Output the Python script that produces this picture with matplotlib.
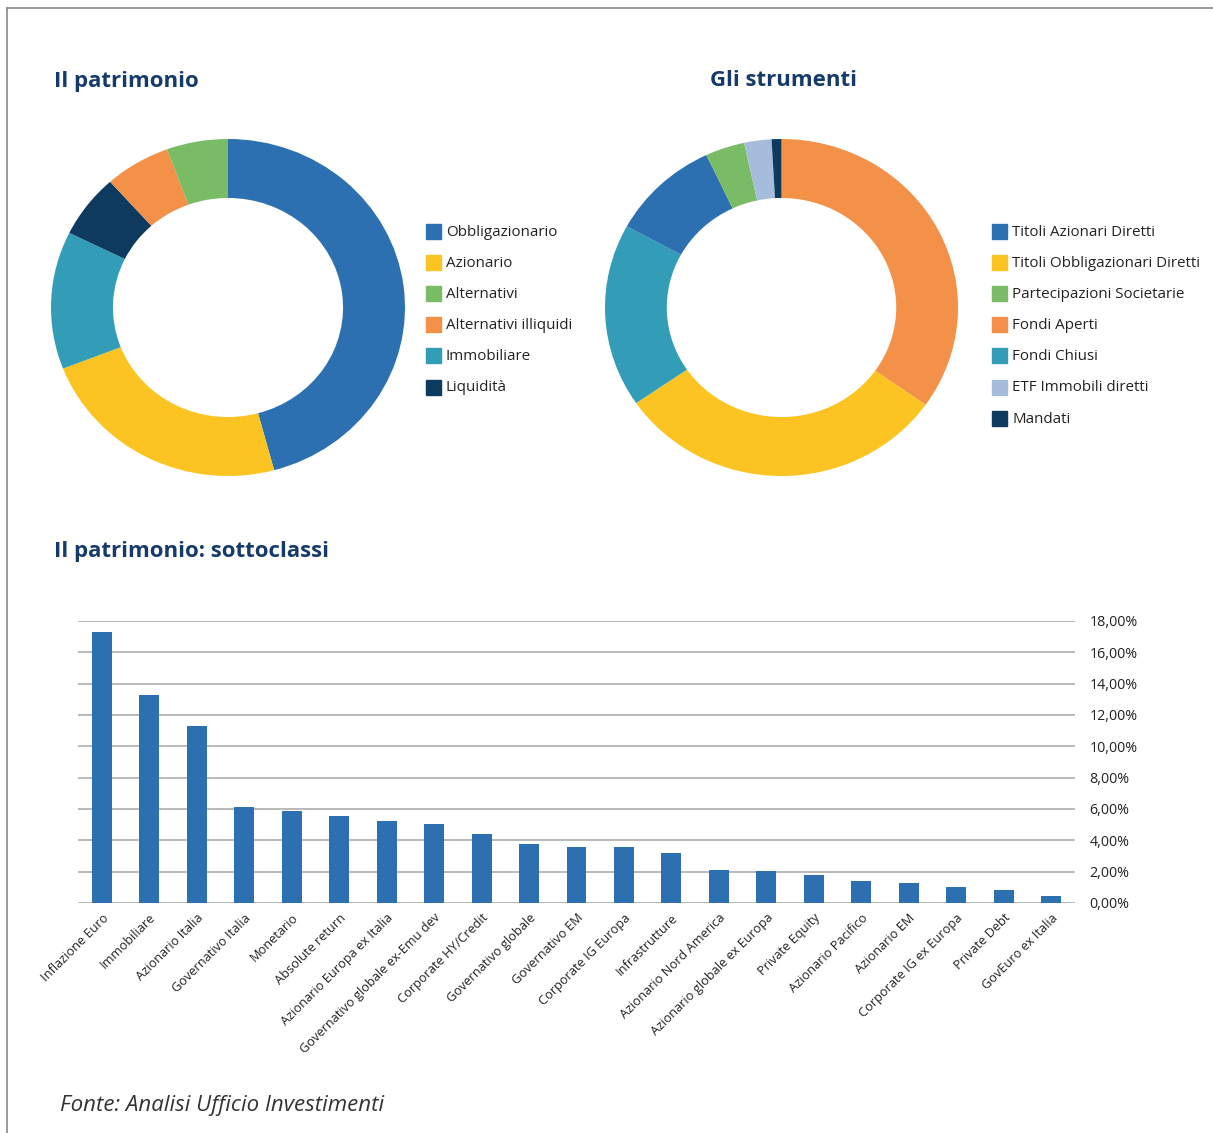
import matplotlib
matplotlib.use('Agg')
import matplotlib.pyplot as plt
from matplotlib.lines import Line2D
from matplotlib.patches import Rectangle

plt.rcParams['font.family'] = ['Open Sans', 'DejaVu Sans']

W, H = 1213, 1133

# ---- data
patrimonio_labels = ['Obbligazionario', 'Azionario', 'Immobiliare', 'Liquidità',
                     'Alternativi illiquidi', 'Alternativi']
patrimonio_values = [45.8, 23.3, 13.2, 6.1, 6.0, 5.6]
patrimonio_legend = ['Obbligazionario', 'Azionario', 'Alternativi',
                     'Alternativi illiquidi', 'Immobiliare', 'Liquidità']

strumenti_labels = ['Fondi Aperti', 'Titoli Obbligazionari Diretti', 'Fondi Chiusi',
                    'Titoli Azionari Diretti', 'Partecipazioni Societarie',
                    'ETF Immobili diretti', 'Mandati']
strumenti_values = [34.8, 30.6, 17.6, 10.0, 3.6, 2.5, 0.9]
strumenti_legend = ['Titoli Azionari Diretti', 'Titoli Obbligazionari Diretti',
                    'Partecipazioni Societarie', 'Fondi Aperti', 'Fondi Chiusi',
                    'ETF Immobili diretti', 'Mandati']

sottoclassi = ['Inflazione Euro', 'Immobiliare', 'Azionario Italia', 'Governativo Italia',
               'Monetario', 'Absolute return', 'Azionario Europa ex Italia',
               'Governativo globale ex-Emu dev', 'Corporate HY/Credit',
               'Governativo globale', 'Governativo EM', 'Corporate IG Europa',
               'Infrastrutture', 'Azionario Nord America', 'Azionario globale ex Europa',
               'Private Equity', 'Azionario Pacifico', 'Azionario EM',
               'Corporate IG ex Europa', 'Private Debt', 'GovEuro ex Italia']
sottoclassi_pct = [17.30, 13.27, 11.30, 6.13, 5.87, 5.55, 5.23, 5.04, 4.40, 3.77, 3.57,
                   3.57, 3.19, 2.10, 2.04, 1.79, 1.40, 1.28, 1.02, 0.83, 0.45]
y_ticks = [0, 2, 4, 6, 8, 10, 12, 14, 16, 18]

colors = {
    'Obbligazionario': '#2c70b1', 'Azionario': '#fbc423', 'Alternativi': '#7abb65',
    'Alternativi illiquidi': '#f29147', 'Immobiliare': '#339db8', 'Liquidità': '#0f3a5f',
    'Titoli Azionari Diretti': '#2c70b1', 'Titoli Obbligazionari Diretti': '#fbc423',
    'Partecipazioni Societarie': '#7abb65', 'Fondi Aperti': '#f29147',
    'Fondi Chiusi': '#339db8', 'ETF Immobili diretti': '#a5bcda', 'Mandati': '#0f3a5f',
}
TITLE = '#153a6b'
TEXT = '#222222'


def px_rect(x, y, w, h):
    return [x / W, 1 - (y + h) / H, w / W, h / H]


fig = plt.figure(figsize=(W / 100, H / 100), dpi=100)

# border
fig.add_artist(Line2D([7 / W, 1], [1 - 7.5 / H] * 2, color='#8a8a8a', lw=1.2))
fig.add_artist(Line2D([7 / W] * 2, [0, 1 - 7.5 / H], color='#8a8a8a', lw=1.2))


def donut(rect, labels, values):
    ax = fig.add_axes(px_rect(*rect))
    ax.pie(values, colors=[colors[l] for l in labels], startangle=90, counterclock=False,
           radius=1, wedgeprops=dict(width=0.35, linewidth=0))
    ax.set_aspect('auto')
    ax.set_xlim(-1, 1)
    ax.set_ylim(-1, 1)
    ax.axis('off')


def legend(x, y0, labels, step=31.2):
    for i, lab in enumerate(labels):
        yc = y0 + i * step
        fig.add_artist(Rectangle((x / W, 1 - (yc + 7.5) / H), 15 / W, 15 / H,
                                 color=colors[lab], transform=fig.transFigure))
        fig.text((x + 20) / W, 1 - (yc + 1) / H, lab, fontsize=10.9, color=TEXT,
                 va='center', ha='left')


donut((51, 139, 354, 337), patrimonio_labels, patrimonio_values)
donut((605, 139, 353, 337), strumenti_labels, strumenti_values)
legend(426, 231, patrimonio_legend)
legend(992, 231, strumenti_legend)

fig.text(54 / W, 1 - 81 / H, 'Il patrimonio', fontsize=16, fontweight='bold',
         color=TITLE, va='center')
fig.text(710 / W, 1 - 81 / H, 'Gli strumenti', fontsize=16, fontweight='bold',
         color=TITLE, va='center')
fig.text(54 / W, 1 - 551 / H, 'Il patrimonio: sottoclassi', fontsize=16,
         fontweight='bold', color=TITLE, va='center')

# ---- bar chart
ax = fig.add_axes(px_rect(78, 621, 997, 282))
x = range(len(sottoclassi))
ax.bar(x, sottoclassi_pct, width=0.42, color='#2c70b1', zorder=3)
ax.set_xlim(-0.5, len(sottoclassi) - 0.5)
ax.set_ylim(0, 18)
ax.set_yticks(y_ticks)
ax.set_yticklabels(['{:.2f}%'.format(v).replace('.', ',') for v in y_ticks])
ax.yaxis.tick_right()
ax.tick_params(axis='y', length=0, pad=10.5, labelsize=10.3, labelcolor=TEXT)
ax.grid(axis='y', color='#a6a6a6', lw=1.1, zorder=0)
ax.set_xticks(list(x))
ax.set_xticklabels(sottoclassi, rotation=45, ha='right', rotation_mode='anchor',
                   fontsize=9.2, color=TEXT)
ax.tick_params(axis='x', length=0, pad=6)
for s in ax.spines.values():
    s.set_visible(False)

fig.text(60 / W, 1 - 1106 / H, 'Fonte: Analisi Ufficio Investimenti', fontsize=16,
         style='italic', color='#333333', va='center')

fig.savefig('out.png', dpi=100)
